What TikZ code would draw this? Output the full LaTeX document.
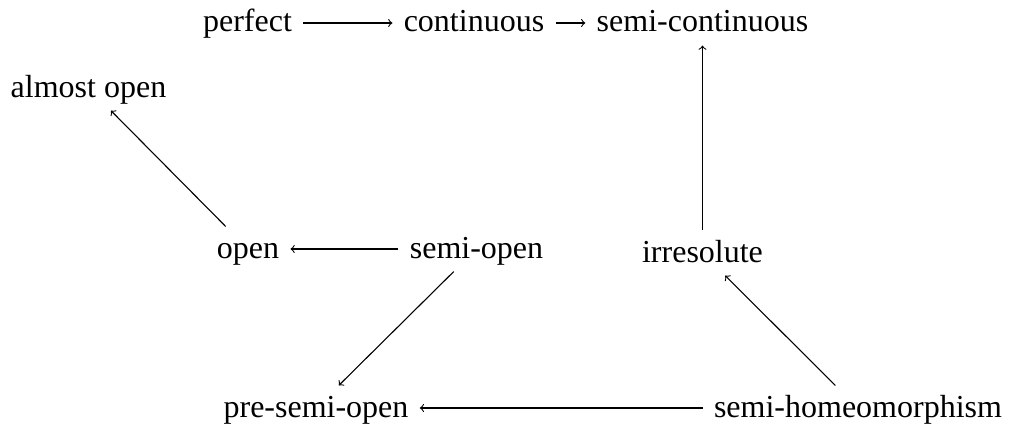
\documentclass[tikz,border=0pt]{standalone}
\usepackage{fontspec}
\setmainfont{Liberation Serif}
\begin{document}
\begin{tikzpicture}[
  x=0.5pt, y=-0.5pt,
  obj/.style={font=\fontsize{16}{19}\selectfont, text height=11.6pt, text depth=2.6pt,
              inner xsep=5.5pt, inner ysep=4pt, anchor=center},
  map/.style={draw=black, line width=0.55pt, -to}
]
\useasboundingbox (0,0) rectangle (1012,428);

% objects
\node[obj] (perfect)  at (247.5,23)  {perfect};
\node[obj] (cont)     at (474,23)    {continuous};
\node[obj] (semicont) at (702.5,23)  {semi-continuous};
\node[obj] (almost)   at (88.5,88)   {almost open};
\node[obj] (open)     at (248,249)   {open};
\node[obj] (semiopen) at (476.5,249) {semi-open};
\node[obj] (irres)    at (702.5,253) {irresolute};
\node[obj] (preso)    at (316,408)   {pre-semi-open};
\node[obj] (homeo)    at (858,408)   {semi-homeomorphism};

% implications
\draw[map] (perfect) -- (cont);
\draw[map] (cont) -- (semicont);
\draw[map] (irres) -- (semicont);
\draw[map] (open) -- (almost);
\draw[map] (semiopen) -- (open);
\draw[map] (semiopen) -- (preso);
\draw[map] (homeo) -- (irres);
\draw[map] (homeo) -- (preso);
\end{tikzpicture}
\end{document}
